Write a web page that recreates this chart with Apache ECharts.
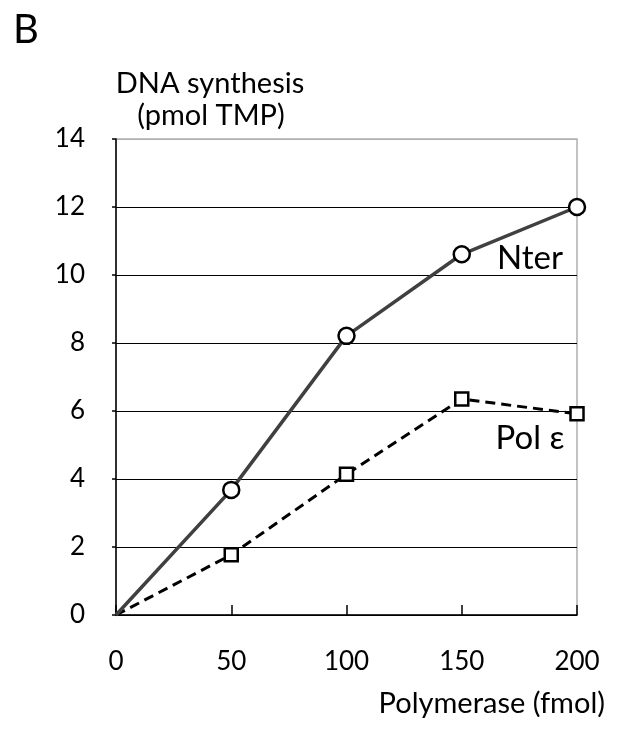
<!DOCTYPE html>
<html>
<head>
<meta charset="utf-8">
<script src="https://cdn.jsdelivr.net/npm/echarts@6/dist/echarts.min.js"></script>
<style>
  html, body { margin: 0; padding: 0; background: #fff; }
  #main { width: 628px; height: 731px; }
</style>
</head>
<body>
<div id="main"></div>
<script>
// polymerase amounts (fmol)
var polymerase = [0, 50, 100, 150, 200];
// DNA synthesis (pmol TMP)
var nterValues = [0, 3.68, 8.21, 10.61, 12.0];
var polEpsValues = [0, 1.77, 4.14, 6.35, 5.92];

var FONT = 'Lato';

// origin point is drawn without a marker
function pairs(xs, ys) {
    return xs.map(function (x, i) {
        if (x === 0) return { value: [x, ys[i]], symbol: 'none' };
        return [x, ys[i]];
    });
}

var chart = echarts.init(document.getElementById('main'), null, { renderer: 'canvas' });

chart.setOption({
    backgroundColor: '#fff',
    animation: false,
    textStyle: { fontFamily: FONT, color: '#000' },
    grid: {
        left: 116, right: 51, top: 139, bottom: 116,
        show: true, borderColor: '#b0b0b0', borderWidth: 1.5
    },
    xAxis: {
        type: 'value', min: 0, max: 200, interval: 50,
        axisLine: { lineStyle: { color: '#000', width: 1.5 } },
        axisTick: { inside: true, length: 10, lineStyle: { color: '#000', width: 1.5 } },
        axisLabel: { fontSize: 26, color: '#000', fontFamily: FONT, margin: 34 },
        splitLine: { show: false }
    },
    yAxis: {
        type: 'value', min: 0, max: 14, interval: 2,
        axisLine: { show: true, lineStyle: { color: '#000', width: 1.5 } },
        axisTick: { show: true, length: 4, lineStyle: { color: '#000', width: 1.5 } },
        axisLabel: { fontSize: 26, color: '#000', fontFamily: FONT, margin: 31 },
        splitLine: {
            show: true,
            lineStyle: {
                color: ['#000', '#000', '#000', '#000', '#000', '#000', '#000', '#b0b0b0'],
                width: 1
            }
        }
    },
    graphic: [
        { type: 'text', left: 13, top: 10, style: { text: 'B', fontSize: 40, fontFamily: FONT, fill: '#000' } },
        { type: 'text', x: 210, y: 84, style: { text: 'DNA synthesis', fontSize: 29, fontFamily: FONT, fill: '#000', align: 'center', verticalAlign: 'middle' } },
        { type: 'text', x: 211, y: 116, style: { text: '(pmol TMP)', fontSize: 29, fontFamily: FONT, fill: '#000', align: 'center', verticalAlign: 'middle' } },
        { type: 'text', x: 605, y: 704, style: { text: 'Polymerase (fmol)', fontSize: 29, fontFamily: FONT, fill: '#000', align: 'right', verticalAlign: 'middle' } },
        { type: 'text', x: 530, y: 258, style: { text: 'Nter', fontSize: 33, fontFamily: FONT, fill: '#000', align: 'center', verticalAlign: 'middle' } },
        { type: 'text', x: 530, y: 438, style: { text: 'Pol \u03b5', fontSize: 33, fontFamily: FONT, fill: '#000', align: 'center', verticalAlign: 'middle' } }
    ],
    series: [
        {
            name: 'Nter',
            type: 'line',
            data: pairs(polymerase, nterValues),
            symbol: 'circle',
            symbolSize: 16,
            showAllSymbol: true,
            lineStyle: { color: '#404040', width: 3.5 },
            itemStyle: { color: '#fff', borderColor: '#000', borderWidth: 2.5 },
            z: 3
        },
        {
            name: 'Pol \u03b5',
            type: 'line',
            data: pairs(polymerase, polEpsValues),
            symbol: 'rect',
            symbolSize: 13,
            showAllSymbol: true,
            lineStyle: { color: '#000', width: 3, type: [10, 6] },
            itemStyle: { color: '#fff', borderColor: '#000', borderWidth: 2.5 },
            z: 2
        }
    ]
});
</script>
</body>
</html>
